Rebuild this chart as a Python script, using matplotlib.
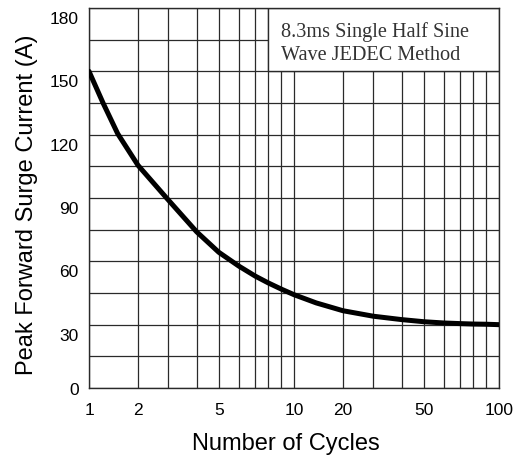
import numpy as np
import matplotlib
matplotlib.use("Agg")
import matplotlib.pyplot as plt
from matplotlib.ticker import FixedLocator, NullFormatter, FixedFormatter
from matplotlib.patches import Rectangle
from matplotlib.transforms import ScaledTranslation

plt.rcParams["font.family"] = ["Liberation Sans", "DejaVu Sans"]

# ---- data ----
cycles = [1, 1.22, 1.5, 2, 2.93, 4, 5, 6, 7, 8, 9, 10, 13.7, 20, 30, 40, 50, 60, 70, 80, 90, 100]
current = [150, 135, 120.5, 105.5, 90, 74, 64.3, 57.8, 53, 49.8, 46.8, 44.2, 40.3, 36.6, 34, 32.4, 31.4, 30.8, 30.5, 30.3, 30.2, 30]

x_major = [1, 2, 5, 10, 20, 50, 100]
x_major_labels = ["1", "2", "5", "10", "20", "50", "100"]
x_minor = [3, 4, 6, 7, 8, 9, 30, 40, 60, 70, 80, 90]
y_major = [0, 30, 60, 90, 120, 150, 180]
y_minor = [15, 45, 75, 105, 135, 165]

note_text = "8.3ms Single Half Sine\nWave JEDEC Method"
x_label = "Number of Cycles"
y_label = "Peak Forward Surge Current (A)"

# the printed chart's log grid is drawn slightly compressed; these are the
# fractional positions of digits 1..10 inside each decade on that paper
digits = np.array([1, 2, 3, 4, 5, 6, 7, 8, 9, 10], float)
digit_pos = np.array([0, 0.239, 0.387, 0.525, 0.633, 0.730, 0.811, 0.874, 0.939, 1.0])
log_digits = np.log10(digits)


def fwd(x):
    x = np.asarray(x, float)
    safe = np.where(x > 0, x, 1e-6)
    lg = np.log10(safe)
    dec = np.floor(lg)
    frac = np.interp(lg - dec, log_digits, digit_pos)
    return dec + frac


def inv(y):
    y = np.asarray(y, float)
    dec = np.floor(y)
    lm = np.interp(y - dec, digit_pos, log_digits)
    return 10 ** (dec + lm)


fig = plt.figure(figsize=(5.16, 4.56), dpi=100)
ax = fig.add_axes([89 / 516, 1 - 389 / 456, 410 / 516, 380 / 456])

ax.set_xscale("function", functions=(fwd, inv))
ax.set_xlim(1, 100)
ax.set_ylim(0, 180)

ax.xaxis.set_major_locator(FixedLocator(x_major))
ax.xaxis.set_major_formatter(FixedFormatter(x_major_labels))
ax.xaxis.set_minor_locator(FixedLocator(x_minor))
ax.xaxis.set_minor_formatter(NullFormatter())
ax.yaxis.set_major_locator(FixedLocator(y_major))
ax.yaxis.set_minor_locator(FixedLocator(y_minor))
ax.yaxis.set_minor_formatter(NullFormatter())

grid_col = "#2a2a2a"
ax.grid(True, which="both", color=grid_col, linewidth=0.9, zorder=1)
ax.set_axisbelow(True)
ax.tick_params(which="both", length=0)
ax.tick_params(axis="x", pad=10, labelsize=12.5)
ax.tick_params(axis="y", pad=7.5, labelsize=12.5)
for s in ax.spines.values():
    s.set_color(grid_col)
    s.set_linewidth(1.0)

# white note box in the top-right corner
note_x0, note_x1, note_y0, note_y1 = 8, 100, 150, 180
ax.add_patch(Rectangle((note_x0, note_y0), note_x1 - note_x0, note_y1 - note_y0,
                       facecolor="white", edgecolor=grid_col, linewidth=1.0, zorder=2))
ax.text((281 - 89) / 410, (389 - 60) / 380, note_text, transform=ax.transAxes,
        ha="left", va="baseline", family="Liberation Serif", fontsize=14.6,
        color="#333333", linespacing=1.25, zorder=3)

ax.plot(cycles, current, color="black", linewidth=3.6, solid_capstyle="round",
        solid_joinstyle="round", zorder=4)

ax.set_xlabel(x_label, fontsize=17)
ax.xaxis.label.set_va("baseline")
ax.xaxis.set_label_coords((286 - 89) / 410, (389 - 450) / 380)
ax.set_ylabel(y_label, fontsize=17)
ax.yaxis.set_label_coords((38 - 89) / 410, (389 - 205) / 380)

fig.canvas.draw()
# the printed y tick numbers sit a little below their grid lines
for lab, v in zip(ax.get_yticklabels(), y_major):
    if v != 0:
        lab.set_transform(lab.get_transform() + ScaledTranslation(0, -0.09, fig.dpi_scale_trans))

fig.savefig("out.png", dpi=100)
